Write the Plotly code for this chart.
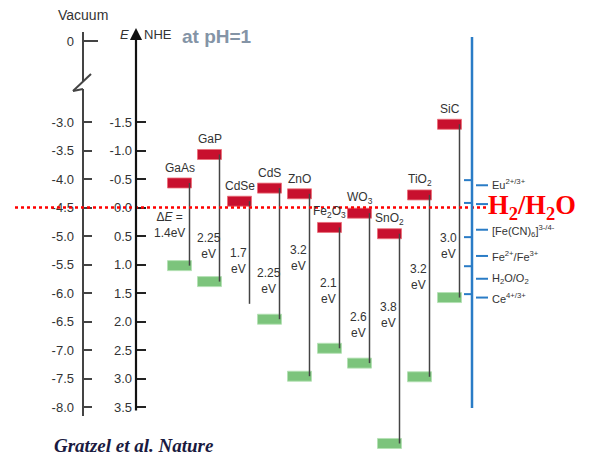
import plotly.graph_objects as go

# ---------------- data ----------------
materials = ["GaAs", "GaP", "CdSe", "CdS", "ZnO", "Fe<sub>2</sub>O<sub>3</sub>",
             "WO<sub>3</sub>", "SnO<sub>2</sub>", "TiO<sub>2</sub>", "SiC"]
cb_nhe = [-0.43, -0.93, -0.11, -0.34, -0.24, 0.35, 0.10, 0.46, -0.22, -1.46]   # conduction band edge (V vs NHE)
vb_nhe = [1.02, 1.30, 1.69, 1.96, 2.96, 2.47, 2.73, 4.14, 2.97, 1.58]          # valence band edge (V vs NHE)
vb_marked = [True, True, False, True, True, True, True, True, True, True]
band_gap = ["1.4", "2.25", "1.7", "2.25", "3.2", "2.1", "2.6", "3.8", "3.2", "3.0"]
gap_label_nhe = [0.31, 0.68, 0.94, 1.29, 0.88, 1.47, 2.06, 1.89, 1.22, 0.68]

nhe_ticks = [-1.5, -1.0, -0.5, 0.0, 0.5, 1.0, 1.5, 2.0, 2.5, 3.0, 3.5]
vac_ticks = [-3.0, -3.5, -4.0, -4.5, -5.0, -5.5, -6.0, -6.5, -7.0, -7.5, -8.0]

redox_names = ["Eu<sup>2+/3+</sup>", "H<sub>2</sub>/H<sub>2</sub>O", "[Fe(CN)<sub>6</sub>]<sup>3-/4-</sup>",
               "Fe<sup>2+</sup>/Fe<sup>3+</sup>", "H<sub>2</sub>O/O<sub>2</sub>", "Ce<sup>4+/3+</sup>"]
redox_nhe = [-0.39, -0.06, 0.39, 0.85, 1.25, 1.58]
scale_marks_nhe = [-0.48, -0.08, 0.52, 1.03, 1.52]

# ---------------- geometry helpers ----------------
OFF = 8                      # page body margin of the html page
W, H = 590 - OFF, 456 - OFF  # figure size
NHE0_PX, PX_PER_V = 207.5, 57.0   # page pixel of 0 V NHE and scale
Y_TOP = -(NHE0_PX - OFF) / PX_PER_V
Y_BOT = (H - (NHE0_PX - OFF)) / PX_PER_V
X0_PX, STEP_PX = 179.5, 30.0


def px(x):
    return (x - OFF) / W


def py(y):
    return 1 - (y - OFF) / H


FONT = "Liberation Sans, Arial, sans-serif"
SERIF = "Liberation Serif, Times New Roman, serif"
TXT = "#333333"
RED = "#C8102E"
GREEN = "#7CC47C"
BLUE = "#2A7CC6"

idx = list(range(len(materials)))
bar_h = 10 / PX_PER_V

fig = go.Figure()

# conduction band bars
fig.add_trace(go.Bar(
    x=idx, y=[bar_h] * len(idx), base=[c - bar_h / 2 for c in cb_nhe], width=0.8,
    marker=dict(color=RED, line=dict(color="rgba(235,110,120,0.8)", width=1)),
    hoverinfo="skip"))
# valence band bars
gx = [i for i in idx if vb_marked[i]]
fig.add_trace(go.Bar(
    x=gx, y=[bar_h] * len(gx), base=[vb_nhe[i] - bar_h / 2 for i in gx], width=0.8,
    marker=dict(color=GREEN, line=dict(color="rgba(180,225,180,0.9)", width=1)),
    hoverinfo="skip"))
# band-gap connectors
lx, ly = [], []
for i in idx:
    lx += [i + 1 / 3, i + 1 / 3, None]
    ly += [cb_nhe[i], vb_nhe[i], None]
fig.add_trace(go.Scatter(x=lx, y=ly, mode="lines", line=dict(color="#444444", width=1.5),
                         hoverinfo="skip"))
# dummy trace for vacuum axis
fig.add_trace(go.Scatter(x=[None], y=[None], yaxis="y2", showlegend=False))

ann = []
shapes = []

# material labels and gap labels
for i in idx:
    ann.append(dict(x=i, y=cb_nhe[i], xref="x", yref="y", text=materials[i], showarrow=False,
                    xanchor="center", yanchor="middle",
                    yshift=15, font=dict(family=FONT, size=12, color=TXT)))
    if i == 0:
        t = "Δ<i>E</i> =<br>" + band_gap[i] + "eV"
        xs = -10
    else:
        t = band_gap[i] + "<br>eV"
        xs = -1
    ann.append(dict(x=i, y=gap_label_nhe[i], xref="x", yref="y", text=t, showarrow=False,
                    xanchor="center", yanchor="middle",
                    xshift=xs, font=dict(family=FONT, size=12, color=TXT)))

# NHE arrow axis
ann.append(dict(x=px(136), y=py(28), xref="paper", yref="paper", text="", showarrow=True,
                axref="pixel", ayref="pixel", ax=0, ay=384, arrowhead=2, arrowsize=1.1,
                arrowwidth=2.2, arrowcolor="#111111", standoff=0))
# vacuum axis with break
AX = "#444444"
shapes += [
    dict(type="line", xref="paper", yref="paper", x0=px(83), x1=px(83), y0=py(32), y1=py(81.5),
         line=dict(color=AX, width=2)),
    dict(type="line", xref="paper", yref="paper", x0=px(91), x1=px(73), y0=py(74), y1=py(91),
         line=dict(color=AX, width=2)),
    dict(type="line", xref="paper", yref="paper", x0=px(73), x1=px(83), y0=py(91), y1=py(89),
         line=dict(color=AX, width=2)),
    dict(type="line", xref="paper", yref="paper", x0=px(83), x1=px(83), y0=py(89), y1=py(416),
         line=dict(color=AX, width=2)),
    dict(type="line", xref="paper", yref="paper", x0=px(83), x1=px(98), y0=py(41), y1=py(41),
         line=dict(color=AX, width=2)),
]

# H2/H2O reference level
shapes.append(dict(type="line", xref="paper", yref="y", x0=px(15), x1=px(487), y0=0, y1=0,
                   line=dict(color="#FF0000", width=2.5, dash="dot"), layer="above"))

# redox scale
shapes.append(dict(type="line", xref="paper", yref="paper", x0=px(472), x1=px(472),
                   y0=py(37), y1=py(408), line=dict(color=BLUE, width=2.5)))
for v in scale_marks_nhe:
    shapes.append(dict(type="line", xref="paper", yref="y", x0=px(464), x1=px(472), y0=v, y1=v,
                       line=dict(color=BLUE, width=2)))
for k, (name, v) in enumerate(zip(redox_names, redox_nhe)):
    shapes.append(dict(type="line", xref="paper", yref="y", x0=px(476), x1=px(488), y0=v, y1=v,
                       line=dict(color=BLUE, width=2)))
    if k == 1:
        ann.append(dict(x=px(486), y=v, xref="paper", yref="y", text=name, showarrow=False,
                        xanchor="left", yanchor="middle", yshift=-3,
                        font=dict(family=SERIF, size=26.5, color="#FF0000", weight="bold")))
    else:
        nudge = {0: 1, 2: -1}.get(k, 0)
        ann.append(dict(x=px(490), y=v, xref="paper", yref="y", text=name, showarrow=False,
                        xanchor="left", yanchor="middle", yshift=nudge,
                        font=dict(family=FONT, size=11, color=TXT)))

# titles
ann += [
    dict(x=px(83), y=py(15), xref="paper", yref="paper", text="Vacuum", showarrow=False,
         xanchor="center", yanchor="middle", font=dict(family=FONT, size=14, color=TXT)),
    dict(x=px(124), y=py(35), xref="paper", yref="paper", text="<i>E</i>", showarrow=False,
         xanchor="center", yanchor="middle", font=dict(family=FONT, size=13, color=TXT)),
    dict(x=px(142), y=py(35), xref="paper", yref="paper", text="NHE", showarrow=False,
         xanchor="left", yanchor="middle", font=dict(family=FONT, size=13, color=TXT)),
    dict(x=px(180), y=py(36), xref="paper", yref="paper", text="at pH=1", showarrow=False,
         xanchor="left", yanchor="middle",
         font=dict(family=FONT, size=19, color="#8494A6", weight="bold")),
    dict(x=px(134), y=py(445), xref="paper", yref="paper", text="<b><i>Gratzel et al. Nature</i></b>",
         showarrow=False, xanchor="center", yanchor="middle",
         font=dict(family=SERIF, size=19, color="#1A1A40")),
]

fig.update_layout(
    width=W, height=H, margin=dict(l=0, r=0, t=0, b=0),
    paper_bgcolor="white", plot_bgcolor="white", showlegend=False, barmode="overlay",
    xaxis=dict(range=[(OFF - X0_PX) / STEP_PX, (OFF + W - X0_PX) / STEP_PX], visible=False),
    yaxis=dict(range=[Y_BOT, Y_TOP], anchor="free", position=px(136), side="left",
               showgrid=False, zeroline=False, showline=False,
               tickvals=nhe_ticks, ticktext=[f"{v:.1f}" for v in nhe_ticks],
               ticks="inside", ticklen=9, tickwidth=2, tickcolor="#222222",
               ticklabelstandoff=4,
               tickfont=dict(family=FONT, size=13, color=TXT)),
    yaxis2=dict(overlaying="y", range=[-4.5 - Y_BOT, -4.5 - Y_TOP], anchor="free",
                position=px(83), side="left", showgrid=False, zeroline=False, showline=False,
                tickvals=vac_ticks + [-4.5 - (41 - NHE0_PX) / PX_PER_V],
                ticktext=[f"{v:.1f}" for v in vac_ticks] + ["0"],
                ticks="inside", ticklen=8, tickwidth=2, tickcolor="#444444",
                ticklabelstandoff=9,
                tickfont=dict(family=FONT, size=13, color=TXT)),
    annotations=ann, shapes=shapes,
)

fig.write_html("out.html")
